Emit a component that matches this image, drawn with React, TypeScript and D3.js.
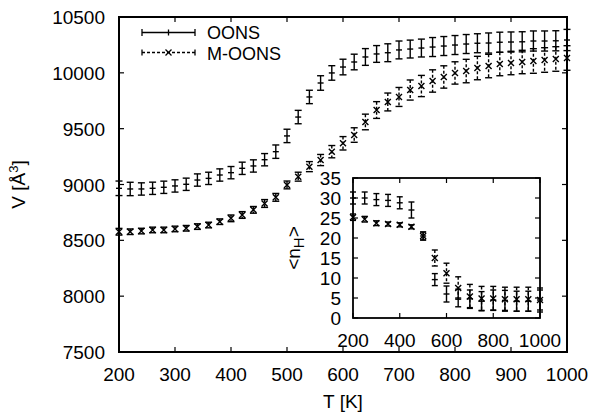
import React from 'react';
import * as d3 from 'd3';

// main plot: volume vs temperature
const temps = [200, 220, 240, 260, 280, 300, 320, 340, 360, 380, 400, 420, 440, 460, 480,
  500, 520, 540, 560, 580, 600, 620, 640, 660, 680,
  700, 720, 740, 760, 780, 800, 820, 840, 860, 880, 900, 920, 940, 960, 980, 1000];
const oonsV = [8966, 8960, 8960, 8966, 8975, 8987, 9002, 9040, 9055, 9085, 9106, 9145, 9166, 9222, 9294,
  9435, 9604, 9784, 9909, 9999, 10052, 10097, 10142, 10169, 10180,
  10205, 10213, 10222, 10231, 10240, 10249, 10258, 10265, 10267, 10274, 10276, 10278, 10285, 10285, 10287, 10294];
const oonsErr = [65, 60, 55, 55, 55, 55, 55, 55, 55, 55, 55, 55, 55, 55, 60,
  60, 60, 60, 65, 65, 70, 70, 75, 75, 80,
  80, 80, 80, 85, 85, 85, 85, 85, 90, 90, 90, 90, 90, 90, 90, 95];
const moonsV = [8577, 8577, 8583, 8593, 8593, 8602, 8608, 8623, 8637, 8667, 8697, 8727, 8773, 8830, 8885,
  8996, 9070, 9160, 9219, 9294, 9369, 9443, 9560, 9667, 9739,
  9784, 9846, 9882, 9927, 9963, 9999, 10016, 10043, 10061, 10079, 10088, 10097, 10106, 10115, 10124, 10133];
const moonsErr = [30, 25, 25, 25, 25, 25, 25, 25, 25, 25, 30, 30, 30, 35, 35,
  35, 40, 45, 50, 55, 60, 65, 70, 75, 80,
  85, 90, 95, 100, 100, 100, 105, 105, 105, 105, 105, 105, 110, 110, 110, 110];

// inset: hydrogen bonds vs temperature
const insetT = [200, 250, 300, 350, 400, 450, 500, 550, 600, 650, 700, 750, 800, 850, 900, 950, 1000];
const oonsN = [30.0, 30.0, 29.6, 29.4, 28.8, 27.0, 20.5, 9.6, 6.0, 5.0, 4.8, 4.2, 4.5, 4.4, 4.2, 4.2, 4.5];
const oonsNErr = [1.5, 1.5, 1.5, 1.5, 1.5, 2.0, 1.0, 1.5, 2.0, 2.2, 2.2, 2.4, 2.5, 2.5, 2.5, 2.5, 2.5];
const moonsN = [25.2, 24.7, 23.7, 23.5, 23.3, 22.8, 20.5, 15.0, 11.2, 7.5, 5.4, 4.9, 4.9, 4.7, 4.7, 4.7, 4.5];
const moonsNErr = [0.8, 0.7, 0.6, 0.5, 0.5, 0.5, 1.0, 2.0, 2.5, 2.8, 3.0, 3.0, 3.0, 3.0, 3.0, 3.0, 3.0];

const mainXTicks = [200, 300, 400, 500, 600, 700, 800, 900, 1000];
const mainYTicks = [7500, 8000, 8500, 9000, 9500, 10000, 10500];
const insetXTicks = [200, 400, 600, 800, 1000];
const insetYTicks = [0, 5, 10, 15, 20, 25, 30, 35];
const legendNames = ['OONS', 'M-OONS'];

const FONT = '"Liberation Sans", Arial, Helvetica, sans-serif';

type Pt = { x: number; y: number; e: number };

function ErrBars({ pts, x, y, dashed, marker, cap }: {
  pts: Pt[]; x: d3.ScaleLinear<number, number>; y: d3.ScaleLinear<number, number>;
  dashed: boolean; marker: 'plus' | 'cross'; cap: number;
}) {
  return (
    <g stroke="#000" strokeWidth={1.4} fill="none">
      {pts.map((p, i) => {
        const cx = x(p.x), cy = y(p.y), top = y(p.y + p.e), bot = y(p.y - p.e);
        return (
          <g key={i}>
            <line x1={cx} x2={cx} y1={top} y2={bot} strokeDasharray={dashed ? '3,2' : undefined} />
            <line x1={cx - cap} x2={cx + cap} y1={top} y2={top} />
            <line x1={cx - cap} x2={cx + cap} y1={bot} y2={bot} />
            {marker === 'plus'
              ? <line x1={cx - 3} x2={cx + 3} y1={cy} y2={cy} />
              : <path d={`M${cx - 3},${cy - 3}L${cx + 3},${cy + 3}M${cx - 3},${cy + 3}L${cx + 3},${cy - 3}`} />}
          </g>
        );
      })}
    </g>
  );
}

export default function App() {
  const m = { left: 119, right: 567, top: 17, bottom: 352 };
  const x = d3.scaleLinear().domain([200, 1000]).range([m.left, m.right]);
  const y = d3.scaleLinear().domain([7500, 10500]).range([m.bottom, m.top]);

  const ins = { left: 353, right: 540, top: 178, bottom: 318 };
  const ix = d3.scaleLinear().domain([200, 1000]).range([ins.left, ins.right]);
  const iy = d3.scaleLinear().domain([0, 35]).range([ins.bottom, ins.top]);

  const oonsPts = temps.map((t, i) => ({ x: t, y: oonsV[i], e: oonsErr[i] }));
  const moonsPts = temps.map((t, i) => ({ x: t, y: moonsV[i], e: moonsErr[i] }));
  const oonsNPts = insetT.map((t, i) => ({ x: t, y: oonsN[i], e: oonsNErr[i] }));
  const moonsNPts = insetT.map((t, i) => ({ x: t, y: moonsN[i], e: moonsNErr[i] }));

  const fs = 19;
  const tl = 5;

  return (
    <div style={{ position: 'absolute', left: 0, top: 0 }}>
      <svg width={590} height={412} style={{ display: 'block', background: '#fff' }} fontFamily={FONT}>
        {/* main ticks (mirrored on all sides) */}
        <g stroke="#000" strokeWidth={1.2}>
          {mainXTicks.map(t => (
            <g key={'xt' + t}>
              <line x1={x(t)} x2={x(t)} y1={m.bottom} y2={m.bottom - tl} />
              <line x1={x(t)} x2={x(t)} y1={m.top} y2={m.top + tl} />
            </g>
          ))}
          {mainYTicks.map(t => (
            <g key={'yt' + t}>
              <line x1={m.left} x2={m.left + tl} y1={y(t)} y2={y(t)} />
              <line x1={m.right} x2={m.right - tl} y1={y(t)} y2={y(t)} />
            </g>
          ))}
        </g>
        <g fontSize={fs} fill="#000">
          {mainXTicks.map(t => (
            <text key={'xl' + t} x={x(t)} y={m.bottom + 29} textAnchor="middle">{t}</text>
          ))}
          {mainYTicks.map(t => (
            <text key={'yl' + t} x={m.left - 14} y={y(t) + 7} textAnchor="end">{t}</text>
          ))}
          <text x={(m.left + m.right) / 2} y={408} textAnchor="middle">T [K]</text>
          <text transform={`translate(25,${(m.top + m.bottom) / 2}) rotate(-90)`} textAnchor="middle">
            V [Å<tspan fontSize={13} dy={-7}>3</tspan><tspan dy={7}>]</tspan>
          </text>
        </g>

        <ErrBars pts={oonsPts} x={x} y={y} dashed={false} marker="plus" cap={3.5} />
        <ErrBars pts={moonsPts} x={x} y={y} dashed={true} marker="cross" cap={3.5} />

        {/* legend */}
        <g stroke="#000" strokeWidth={1.3} fill="none">
          <line x1={142} x2={195} y1={32.5} y2={32.5} />
          <line x1={142} x2={142} y1={29} y2={36} />
          <line x1={195} x2={195} y1={29} y2={36} />
          <line x1={168.5} x2={168.5} y1={29.5} y2={35.5} />
          <line x1={142} x2={195} y1={52.5} y2={52.5} strokeDasharray="3,2" />
          <line x1={142} x2={142} y1={49.5} y2={55.5} />
          <line x1={195} x2={195} y1={49.5} y2={55.5} />
          <path d="M165.5,49.5L171.5,55.5M165.5,55.5L171.5,49.5" />
        </g>
        <g fontSize={18} fill="#000">
          <text x={207} y={38.5}>{legendNames[0]}</text>
          <text x={207} y={59.5}>{legendNames[1]}</text>
        </g>

        <rect x={m.left} y={m.top} width={m.right - m.left} height={m.bottom - m.top}
          fill="none" stroke="#000" strokeWidth={2} />

        {/* inset */}
        <rect x={ins.left} y={ins.top} width={ins.right - ins.left} height={ins.bottom - ins.top} fill="#fff" />
        <g stroke="#000" strokeWidth={1.2}>
          {insetXTicks.map(t => (
            <g key={'ixt' + t}>
              <line x1={ix(t)} x2={ix(t)} y1={ins.bottom} y2={ins.bottom - tl} />
              <line x1={ix(t)} x2={ix(t)} y1={ins.top} y2={ins.top + tl} />
            </g>
          ))}
          {insetYTicks.map(t => (
            <g key={'iyt' + t}>
              <line x1={ins.left} x2={ins.left + tl} y1={iy(t)} y2={iy(t)} />
              <line x1={ins.right} x2={ins.right - tl} y1={iy(t)} y2={iy(t)} />
            </g>
          ))}
        </g>
        <g fontSize={fs} fill="#000">
          {insetXTicks.map(t => (
            <text key={'ixl' + t} x={ix(t)} y={ins.bottom + 29} textAnchor="middle">{t}</text>
          ))}
          {insetYTicks.map(t => (
            <text key={'iyl' + t} x={ins.left - 12} y={iy(t) + 7} textAnchor="end">{t}</text>
          ))}
          <text transform={`translate(300,${(ins.top + ins.bottom) / 2}) rotate(-90)`} textAnchor="middle">
            &lt;n<tspan fontSize={15} dy={4}>H</tspan><tspan dy={-4}>&gt;</tspan>
          </text>
        </g>
        <ErrBars pts={oonsNPts} x={ix} y={iy} dashed={false} marker="plus" cap={3} />
        <ErrBars pts={moonsNPts} x={ix} y={iy} dashed={true} marker="cross" cap={3} />
        <rect x={ins.left} y={ins.top} width={ins.right - ins.left} height={ins.bottom - ins.top}
          fill="none" stroke="#000" strokeWidth={1.8} />
      </svg>
    </div>
  );
}
